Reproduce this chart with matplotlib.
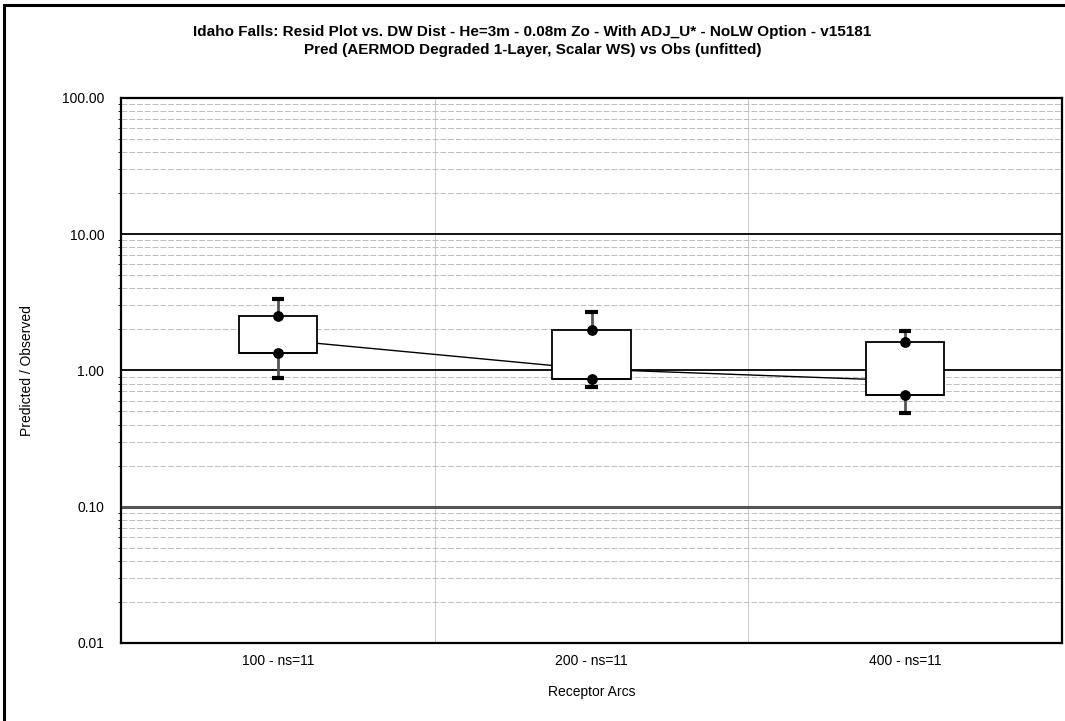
import matplotlib
matplotlib.use('Agg')
import matplotlib.pyplot as plt
from matplotlib.patches import Rectangle
from matplotlib.ticker import FixedLocator, LogLocator, NullFormatter

plt.rcParams['font.family'] = ['Liberation Sans', 'DejaVu Sans']

# Datos (Pred/Obs por arco receptor)
arcs = ['100 - ns=11', '200 - ns=11', '400 - ns=11']
q_low = [1.35, 0.86, 0.66]
q_high = [2.50, 1.98, 1.61]
whisk_low = [0.885, 0.76, 0.485]
whisk_high = [3.32, 2.68, 1.94]
centre = [1.68, 1.02, 0.84]

fig = plt.figure(figsize=(10.65, 7.21), dpi=100)
ax = fig.add_axes([0.1136, 0.1082, 0.9972 - 0.1136, 0.8645 - 0.1082])

ax.set_yscale('log')
ax.set_ylim(0.01, 100)
ax.set_xlim(-0.5, len(arcs) - 0.5)

# Rejilla
ax.yaxis.set_major_locator(FixedLocator([0.01, 0.1, 1, 10, 100]))
ax.yaxis.set_minor_locator(LogLocator(base=10, subs=range(2, 10)))
ax.yaxis.set_minor_formatter(NullFormatter())
ax.set_yticklabels(['0.01', '0.10', '1.00', '10.00', '100.00'])
for v in [1, 10]:
    ax.axhline(v, color='black', lw=1.3, zorder=1)
ax.axhline(0.1, color='#555555', lw=2.2, zorder=1)
ax.grid(which='minor', axis='y', color='#bdbdbd', ls=(0, (6, 2)), lw=0.7, zorder=0)
for xb in [0.5, 1.5]:
    ax.axvline(xb, color='#c8c8c8', lw=0.7, zorder=0)

# Linea central
xs = list(range(len(arcs)))
ax.plot(xs, centre, color='black', lw=1.0, zorder=2)

# Cajas
stats = []
for i in range(len(arcs)):
    stats.append({'q1': q_low[i], 'q3': q_high[i], 'med': q_low[i],
                  'whislo': whisk_low[i], 'whishi': whisk_high[i], 'fliers': []})
ax.bxp(stats, positions=xs, widths=0.25, showfliers=False, patch_artist=True,
       boxprops=dict(facecolor='white', edgecolor='black', lw=1.3),
       medianprops=dict(color='black', lw=1.3),
       whiskerprops=dict(color='#555555', lw=2),
       capprops=dict(color='black', lw=3, solid_capstyle='butt'),
       capwidths=0.04, zorder=3)
ax.scatter(xs + xs, q_low + q_high, s=45, color='black', zorder=4)

ax.set_xticks(xs)
ax.set_xticklabels(arcs)
ax.tick_params(axis='both', length=0, labelsize=10, pad=8)
ax.tick_params(axis='y', pad=12)

for s in ax.spines.values():
    s.set_linewidth(1.6)

ax.set_xlabel('Receptor Arcs', fontsize=10, labelpad=12)
ax.set_ylabel('Predicted / Observed', fontsize=10, labelpad=20)

fig.text(0.5, 0.955, "Idaho Falls: Resid Plot vs. DW Dist - He=3m - 0.08m Zo - With ADJ_U* - NoLW Option - v15181",
         ha='center', va='center', fontsize=11, fontweight='bold')
fig.text(0.5, 0.930, "Pred (AERMOD Degraded 1-Layer, Scalar WS) vs Obs (unfitted)",
         ha='center', va='center', fontsize=11, fontweight='bold')

# Marco exterior (solo izquierda y arriba visibles)
fig.patches.append(Rectangle((4 / 1065, -0.05), 1.1, 1.05 - 5 / 721,
                             transform=fig.transFigure, fill=False, ec='black', lw=2.2))

fig.savefig('out.png', dpi=100)
